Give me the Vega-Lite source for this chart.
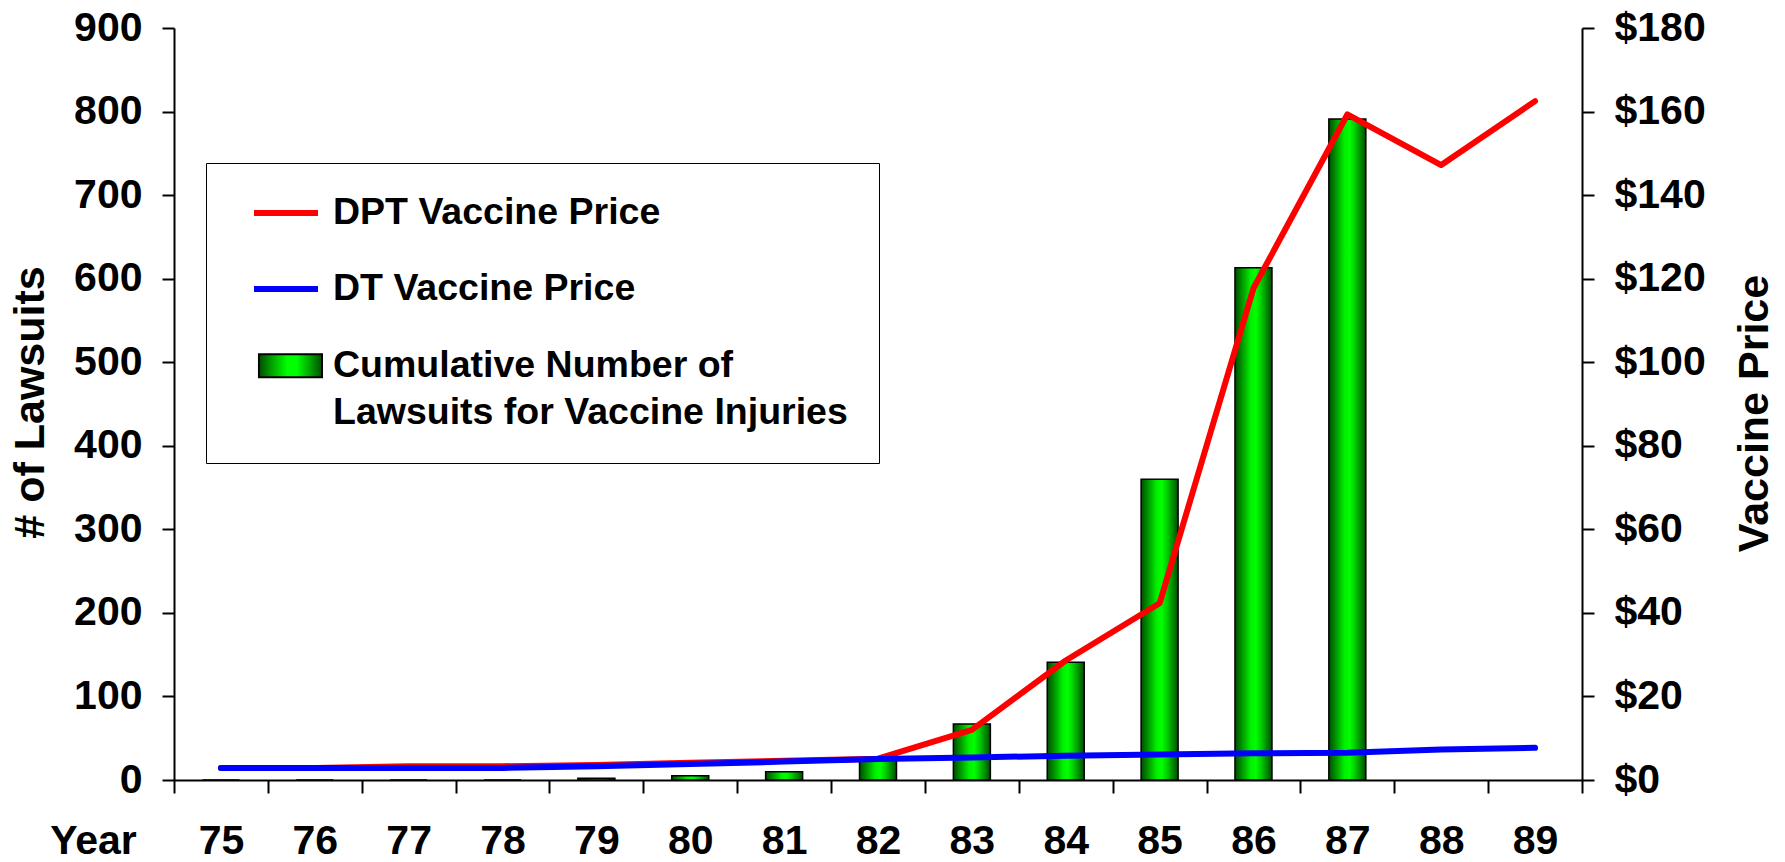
{
  "$schema": "https://vega.github.io/schema/vega-lite/v6.json",
  "width": 1408,
  "height": 752,
  "autosize": {"type": "none"},
  "padding": {"left": 174, "top": 28, "right": 203, "bottom": 82},
  "background": "white",
  "config": {
    "view": {"stroke": null},
    "font": "Liberation Sans",
    "style": {"guide-label": {"lineHeight": 47}},
    "axis": {
      "labelFont": "Liberation Sans",
      "labelFontWeight": "bold",
      "labelFontSize": 41,
      "labelColor": "#000000",
      "titleFont": "Liberation Sans",
      "titleFontWeight": "bold",
      "titleFontSize": 43,
      "titleColor": "#000000",
      "domainColor": "#000000",
      "domainWidth": 2,
      "tickColor": "#000000",
      "tickWidth": 2,
      "grid": false
    }
  },
  "datasets": {
    "suits": [
      {"year": "75", "lawsuits": 0},
      {"year": "76", "lawsuits": 0},
      {"year": "77", "lawsuits": 0},
      {"year": "78", "lawsuits": 0},
      {"year": "79", "lawsuits": 2},
      {"year": "80", "lawsuits": 5},
      {"year": "81", "lawsuits": 10},
      {"year": "82", "lawsuits": 27},
      {"year": "83", "lawsuits": 67},
      {"year": "84", "lawsuits": 141},
      {"year": "85", "lawsuits": 360},
      {"year": "86", "lawsuits": 613},
      {"year": "87", "lawsuits": 791}
    ],
    "prices": [
      {"year": "75", "series": "DPT Vaccine Price", "price": 2.9},
      {"year": "76", "series": "DPT Vaccine Price", "price": 2.9},
      {"year": "77", "series": "DPT Vaccine Price", "price": 3.3},
      {"year": "78", "series": "DPT Vaccine Price", "price": 3.3},
      {"year": "79", "series": "DPT Vaccine Price", "price": 3.6},
      {"year": "80", "series": "DPT Vaccine Price", "price": 4.1},
      {"year": "81", "series": "DPT Vaccine Price", "price": 4.6},
      {"year": "82", "series": "DPT Vaccine Price", "price": 5.1},
      {"year": "83", "series": "DPT Vaccine Price", "price": 12.0},
      {"year": "84", "series": "DPT Vaccine Price", "price": 28.6},
      {"year": "85", "series": "DPT Vaccine Price", "price": 42.3},
      {"year": "86", "series": "DPT Vaccine Price", "price": 117.7},
      {"year": "87", "series": "DPT Vaccine Price", "price": 159.3},
      {"year": "88", "series": "DPT Vaccine Price", "price": 147.2},
      {"year": "89", "series": "DPT Vaccine Price", "price": 162.5},
      {"year": "75", "series": "DT Vaccine Price", "price": 2.9},
      {"year": "76", "series": "DT Vaccine Price", "price": 2.9},
      {"year": "77", "series": "DT Vaccine Price", "price": 2.9},
      {"year": "78", "series": "DT Vaccine Price", "price": 2.9},
      {"year": "79", "series": "DT Vaccine Price", "price": 3.3},
      {"year": "80", "series": "DT Vaccine Price", "price": 3.8},
      {"year": "81", "series": "DT Vaccine Price", "price": 4.4},
      {"year": "82", "series": "DT Vaccine Price", "price": 5.0},
      {"year": "83", "series": "DT Vaccine Price", "price": 5.4},
      {"year": "84", "series": "DT Vaccine Price", "price": 5.8},
      {"year": "85", "series": "DT Vaccine Price", "price": 6.1},
      {"year": "86", "series": "DT Vaccine Price", "price": 6.4},
      {"year": "87", "series": "DT Vaccine Price", "price": 6.5},
      {"year": "88", "series": "DT Vaccine Price", "price": 7.3},
      {"year": "89", "series": "DT Vaccine Price", "price": 7.7}
    ]
  },
  "layer": [
    {
      "data": {"name": "suits"},
      "mark": {
        "type": "bar",
        "width": {"band": 0.394},
        "stroke": "#000000",
        "strokeWidth": 1.5,
        "fill": {
          "gradient": "linear",
          "x1": 0, "y1": 0, "x2": 1, "y2": 0,
          "stops": [
            {"offset": 0, "color": "#004d00"},
            {"offset": 0.12, "color": "#007a00"},
            {"offset": 0.27, "color": "#00b400"},
            {"offset": 0.42, "color": "#00f000"},
            {"offset": 0.56, "color": "#00ff00"},
            {"offset": 0.7, "color": "#00d000"},
            {"offset": 0.86, "color": "#008a00"},
            {"offset": 1, "color": "#004d00"}
          ]
        }
      },
      "encoding": {
        "x": {
          "field": "year",
          "type": "ordinal",
          "scale": {"domain": ["75","76","77","78","79","80","81","82","83","84","85","86","87","88","89"], "paddingInner": 0, "paddingOuter": 0},
          "axis": {
            "title": "Year",
            "labelAngle": 0,
            "tickSize": 13,
            "tickBand": "extent",
            "labelPadding": 28,
            "titleX": -81,
            "titleY": 41,
            "titleAlign": "center",
            "titleBaseline": "top",
            "titleAngle": 0,
            "titleFontSize": 41
          }
        },
        "y": {
          "field": "lawsuits",
          "type": "quantitative",
          "scale": {"domain": [0, 900], "nice": false},
          "axis": {
            "orient": "left",
            "values": [0, 100, 200, 300, 400, 500, 600, 700, 800, 900],
            "tickSize": 12,
            "labelPadding": 20,
            "title": "# of Lawsuits",
            "titleAngle": -90,
            "titleX": -131,
            "titleY": 374,
            "titleAlign": "center",
            "titleBaseline": "alphabetic"
          }
        }
      }
    },
    {
      "layer": [
        {
          "data": {"name": "prices"},
          "mark": {"type": "line", "strokeWidth": 6, "strokeCap": "round", "strokeJoin": "round"},
          "encoding": {
            "x": {"field": "year", "type": "ordinal"},
            "y": {
              "field": "price",
              "type": "quantitative",
              "scale": {"domain": [0, 180], "nice": false},
              "axis": {
                "orient": "right",
                "values": [0, 20, 40, 60, 80, 100, 120, 140, 160, 180],
                "tickSize": 12,
                "labelPadding": 20,
                "labelExpr": "'$' + datum.value",
                "title": "Vaccine Price",
                "titleAngle": -90,
                "titleX": 185,
                "titleY": 385,
                "titleAlign": "center",
                "titleBaseline": "alphabetic"
              }
            },
            "color": {
              "field": "series",
              "type": "nominal",
              "scale": {"domain": ["DPT Vaccine Price", "DT Vaccine Price"], "range": ["#ff0000", "#0000ff"]},
              "legend": null
            }
          }
        },
        {
          "data": {"name": "prices"},
          "mark": {
            "type": "point",
            "opacity": 0,
            "fill": {
              "gradient": "linear",
              "x1": 0, "y1": 0, "x2": 1, "y2": 0,
              "stops": [
                {"offset": 0, "color": "#004d00"},
                {"offset": 0.2, "color": "#00a000"},
                {"offset": 0.45, "color": "#00ff00"},
                {"offset": 0.6, "color": "#00ff00"},
                {"offset": 0.82, "color": "#00a000"},
                {"offset": 1, "color": "#004d00"}
              ]
            }
          },
          "encoding": {
            "x": {"field": "year", "type": "ordinal"},
            "y": {"field": "price", "type": "quantitative"},
            "stroke": {
              "field": "series",
              "type": "nominal",
              "scale": {
                "domain": ["DPT Vaccine Price", "DT Vaccine Price", "Cumulative Number of Lawsuits for Vaccine Injuries"],
                "range": ["#ff0000", "#0000ff", "#000000"]
              },
              "legend": {
                "orient": "none",
                "legendX": 32,
                "legendY": 135,
                "title": null,
                "strokeColor": "#000000",
                "padding": 31,
                "symbolSize": 1024,
                "symbolOffset": 30,
                "symbolOpacity": 1,
                "labelFont": "Liberation Sans",
                "labelFontWeight": "bold",
                "labelFontSize": 37.5,
                "labelColor": "#000000",
                "labelOffset": 28,
                "labelLimit": 0,
                "rowPadding": 38,
                "labelExpr": "datum.label == 'Cumulative Number of Lawsuits for Vaccine Injuries' ? ['Cumulative Number of', 'Lawsuits for Vaccine Injuries'] : datum.label"
              }
            },
            "shape": {
              "field": "series",
              "type": "nominal",
              "scale": {
                "domain": ["DPT Vaccine Price", "DT Vaccine Price", "Cumulative Number of Lawsuits for Vaccine Injuries"],
                "range": ["M-2,0H2", "M-2,0H2", "M-1.69,-0.72H2.25V0.72H-1.69Z"]
              },
              "legend": {"title": null}
            },
            "strokeWidth": {
              "field": "series",
              "type": "ordinal",
              "scale": {
                "type": "ordinal",
                "domain": ["DPT Vaccine Price", "DT Vaccine Price", "Cumulative Number of Lawsuits for Vaccine Injuries"],
                "range": [6, 6, 2]
              },
              "legend": {"title": null}
            }
          }
        }
      ]
    }
  ],
  "resolve": {"scale": {"y": "independent"}}
}
